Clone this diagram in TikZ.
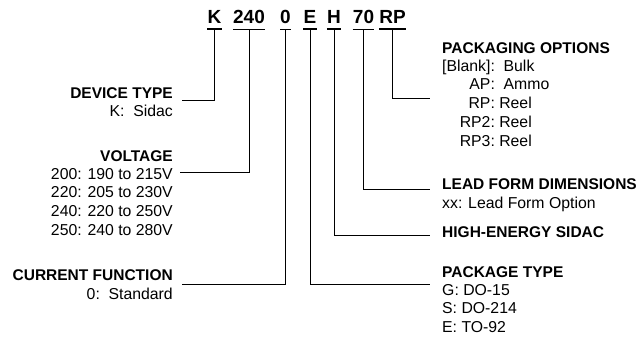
\documentclass[tikz,border=0pt]{standalone}
\usepackage{fontspec}
\setmainfont{Liberation Sans}
\begin{document}
\begin{tikzpicture}[x=1pt,y=-1pt,
  code/.style={font=\fontsize{19}{22}\selectfont\bfseries, anchor=base, inner xsep=0pt, inner ysep=0pt},
  head/.style={font=\fontsize{15.5}{18.8}\selectfont\bfseries, inner sep=0pt},
  body/.style={font=\fontsize{15.8}{18.8}\selectfont, inner sep=0pt},
  ul/.style={line width=1.6pt},
  conn/.style={line width=0.9pt}]
\useasboundingbox (0,0) rectangle (644,341);

% part-number code
\node[code] (ck)  at (214.5,23) {K};
\node[code] (cv)  at (249,23)   {240};
\node[code] (cc)  at (285.5,23) {0};
\node[code] (ce)  at (310,23)   {E};
\node[code] (ch)  at (334,23)   {H};
\node[code] (cl)  at (363.5,23) {70};
\node[code] (cp)  at (392.5,23) {RP};
\foreach \n in {ck,cv,cc,ce,ch,cl,cp}
  \draw[ul] ([yshift=-6pt]\n.south west) -- ([yshift=-6pt]\n.south east);

% left labels
\node[head, anchor=base east] (devtype) at (173,98) {DEVICE TYPE};
\node[body, anchor=base east] (devtypeb) at (173,116) {K:\ \ Sidac};
\node[head, anchor=base east] (volt) at (173,161) {VOLTAGE};
\node[body, anchor=base east] (voltb) at (173,179)
  {\begin{tabular}[t]{@{}r@{}}200: 190 to 215V\\220: 205 to 230V\\240: 220 to 250V\\250: 240 to 280V\end{tabular}};
\node[head, anchor=base east] (curf) at (173,280) {CURRENT FUNCTION};
\node[body, anchor=base east] (curfb) at (173,299) {0:\ \ Standard};

% right labels
\node[head, anchor=base west] (pack) at (442,53) {PACKAGING OPTIONS};
\node[body, anchor=base west] (packb) at (442,71)
  {\begin{tabular}[t]{@{}r@{}l@{}}[Blank]:&\ \ Bulk\\AP:&\ \ Ammo\\RP:&\ Reel\\RP2:&\ Reel\\RP3:&\ Reel\end{tabular}};
\node[head, anchor=base west] (lead) at (442,189) {LEAD FORM DIMENSIONS};
\node[body, anchor=base west] (leadb) at (442,208) {xx: Lead Form Option};
\node[head, anchor=base west] (high) at (442,237) {HIGH-ENERGY SIDAC};
\node[head, anchor=base west] (ptype) at (442,277) {PACKAGE TYPE};
\node[body, anchor=base west] (ptypeb) at (442,295)
  {\begin{tabular}[t]{@{}l@{}}G: DO-15\\S: DO-214\\E: TO-92\end{tabular}};

% connector ends
\coordinate (kEnd) at (182,100);
\coordinate (vEnd) at (180,172);
\coordinate (cEnd) at (182,284);
\coordinate (eEnd) at (430,284);
\coordinate (hEnd) at (430,235);
\coordinate (lEnd) at (430,189);
\coordinate (pEnd) at (430,98);

\draw[conn] ([yshift=-7pt]ck.south) |- (kEnd);
\draw[conn] ([yshift=-7pt]cv.south) |- (vEnd);
\draw[conn] ([yshift=-7pt]cc.south) |- (cEnd);
\draw[conn] ([yshift=-7pt]ce.south) |- (eEnd);
\draw[conn] ([yshift=-7pt]ch.south) |- (hEnd);
\draw[conn] ([yshift=-7pt]cl.south) |- (lEnd);
\draw[conn] ([yshift=-7pt]cp.south) |- (pEnd);
\end{tikzpicture}
\end{document}
